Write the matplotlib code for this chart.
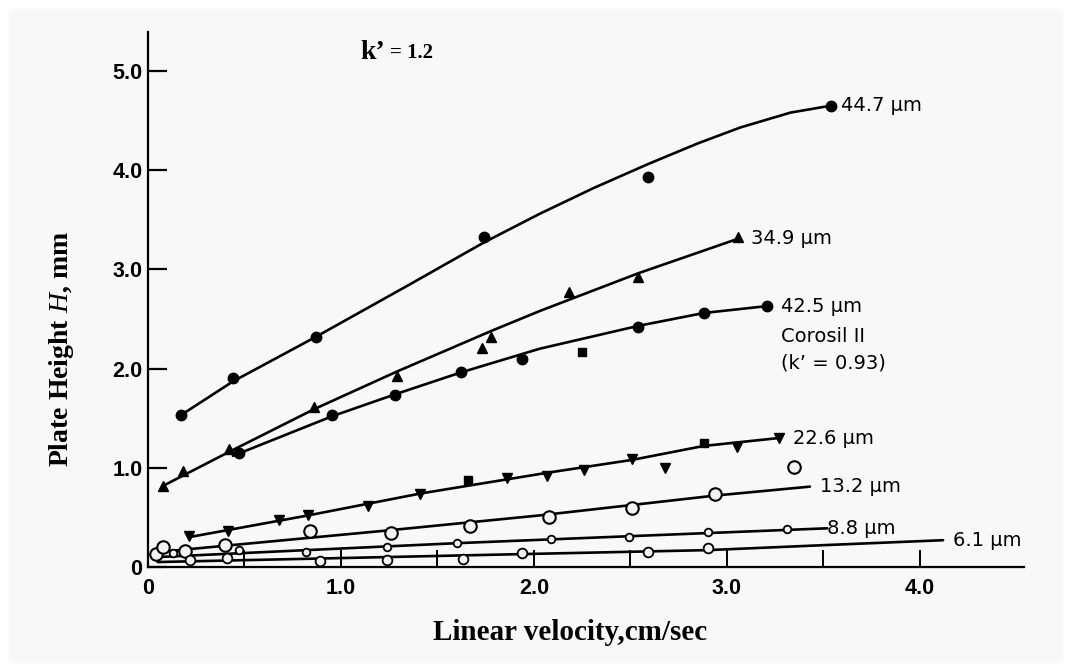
import numpy as np
import matplotlib
matplotlib.use('Agg')
import matplotlib.pyplot as plt
from matplotlib.patches import Rectangle

# datos (velocidad lineal cm/s, altura de plato mm)
u_447 = [0.17, 0.44, 0.87, 1.74, 2.59, 3.54]
h_447 = [1.53, 1.90, 2.32, 3.33, 3.93, 4.65]
fit_u_447 = [0.17, 0.44, 0.87, 1.34, 1.74, 2.03, 2.31, 2.59, 2.85, 3.07, 3.33, 3.54]
fit_h_447 = [1.53, 1.87, 2.32, 2.83, 3.27, 3.56, 3.82, 4.06, 4.27, 4.43, 4.58, 4.65]

u_349 = [0.08, 0.18, 0.42, 0.86, 1.29, 1.73, 1.78, 2.18, 2.54, 3.06]
h_349 = [0.82, 0.97, 1.19, 1.61, 1.93, 2.21, 2.32, 2.77, 2.92, 3.33]
fit_u_349 = [0.08, 0.42, 0.86, 1.29, 1.78, 2.03, 2.54, 3.06]
fit_h_349 = [0.82, 1.16, 1.59, 1.97, 2.38, 2.58, 2.96, 3.31]

u_425 = [0.47, 0.955, 1.28, 1.62, 1.94, 2.54, 2.88, 3.21]
h_425 = [1.15, 1.53, 1.73, 1.97, 2.10, 2.42, 2.56, 2.63]
fit_u_425 = [0.44, 0.955, 1.28, 1.62, 2.03, 2.54, 2.88, 3.21]
fit_h_425 = [1.12, 1.52, 1.74, 1.96, 2.20, 2.43, 2.56, 2.63]

u_226 = [0.21, 0.415, 0.68, 0.83, 1.14, 1.41, 1.86, 2.07, 2.26, 2.51, 2.68, 3.05, 3.27]
h_226 = [0.31, 0.36, 0.47, 0.52, 0.61, 0.74, 0.90, 0.92, 0.98, 1.09, 1.00, 1.21, 1.30]
fit_u_226 = [0.21, 0.83, 1.41, 2.07, 2.51, 2.88, 3.27]
fit_h_226 = [0.30, 0.52, 0.74, 0.95, 1.08, 1.22, 1.30]

# puntos cuadrados sueltos
u_sq = [1.66, 2.25, 2.88]
h_sq = [0.88, 2.17, 1.25]

u_132 = [0.04, 0.08, 0.19, 0.40, 0.84, 1.26, 1.67, 2.08, 2.51, 2.94, 3.35]
h_132 = [0.13, 0.20, 0.16, 0.22, 0.36, 0.34, 0.41, 0.50, 0.59, 0.74, 1.01]
fit_u_132 = [0.05, 1.25, 2.03, 2.94, 3.43]
fit_h_132 = [0.15, 0.37, 0.52, 0.72, 0.81]

u_88 = [0.13, 0.47, 0.82, 1.24, 1.60, 2.09, 2.49, 2.90, 3.31]
h_88 = [0.14, 0.17, 0.15, 0.20, 0.24, 0.28, 0.30, 0.35, 0.38]
fit_u_88 = [0.05, 0.82, 1.60, 2.49, 3.52]
fit_h_88 = [0.10, 0.17, 0.24, 0.31, 0.39]

u_61 = [0.22, 0.41, 0.89, 1.24, 1.63, 1.94, 2.59, 2.90]
h_61 = [0.07, 0.09, 0.06, 0.07, 0.08, 0.14, 0.15, 0.19]
fit_u_61 = [0.05, 1.00, 1.94, 2.90, 3.50, 4.12]
fit_h_61 = [0.05, 0.09, 0.13, 0.17, 0.22, 0.27]

labels = ['44.7 µm', '34.9 µm', '42.5 µm', '22.6 µm', '13.2 µm', '8.8 µm', '6.1 µm']

x_ticks = [0, 0.5, 1.0, 1.5, 2.0, 2.5, 3.0, 3.5, 4.0]
x_ticklabels = ['0', '', '1.0', '', '2.0', '', '3.0', '', '4.0']
y_ticks = [0, 1, 2, 3, 4, 5]
y_ticklabels = ['0', '1.0', '2.0', '3.0', '4.0', '5.0']

plt.rcParams['mathtext.fontset'] = 'custom'
plt.rcParams['mathtext.rm'] = 'Liberation Serif:bold'
plt.rcParams['mathtext.it'] = 'Liberation Serif:italic'

bg = '#f8f8f8'
fig = plt.figure(figsize=(10.71, 6.71), dpi=100, facecolor=bg)
fig.patches.append(Rectangle((0, 0), 1, 1, transform=fig.transFigure,
                             fill=False, edgecolor='white', lw=12))
ax = fig.add_axes([0.1382, 0.155, 0.818, 0.797], facecolor=bg)

lw = 1.9
k = 'black'
openface = '#f2f2f2'
lab_font = 'DejaVu Sans'

# curvas
for fu, fh in [(fit_u_447, fit_h_447), (fit_u_349, fit_h_349), (fit_u_425, fit_h_425),
               (fit_u_226, fit_h_226), (fit_u_132, fit_h_132), (fit_u_88, fit_h_88),
               (fit_u_61, fit_h_61)]:
    ax.plot(fu, fh, color=k, lw=lw, solid_capstyle='round', solid_joinstyle='round', zorder=2)

# puntos
ax.plot(u_447, h_447, 'o', color=k, ms=7.5, zorder=3)
ax.plot(u_349, h_349, '^', color=k, ms=7, zorder=3)
ax.plot(u_425, h_425, 'o', color=k, ms=7.5, zorder=3)
ax.plot(u_226, h_226, 'v', color=k, ms=6.5, zorder=3)
ax.plot(u_sq, h_sq, 's', color=k, ms=6, zorder=3)
ax.plot(u_132, h_132, 'o', mfc=openface, mec=k, mew=1.5, ms=9, zorder=3)
ax.plot(u_88, h_88, 'o', mfc=openface, mec=k, mew=1.3, ms=5.5, zorder=3)
ax.plot(u_61, h_61, 'o', mfc=openface, mec=k, mew=1.3, ms=7, zorder=3)

# etiquetas al final de cada curva
ends = [(fit_u_447[-1], fit_h_447[-1], 7), (fit_u_349[-1], fit_h_349[-1], 9),
        (fit_u_425[-1], fit_h_425[-1], 10), (fit_u_226[-1], fit_h_226[-1], 10),
        (fit_u_132[-1], fit_h_132[-1], 7), (fit_u_88[-1], fit_h_88[-1], 0),
        (fit_u_61[-1], fit_h_61[-1], 7)]
for (ex, ey, off), lab in zip(ends, labels):
    ax.annotate(lab, xy=(ex, ey), xytext=(off, 0), textcoords='offset points',
                va='center', ha='left', fontsize=14, family=lab_font)
ax.annotate('Corosil II', xy=(fit_u_425[-1], fit_h_425[-1]), xytext=(10, -22),
            textcoords='offset points', va='center', ha='left', fontsize=14,
            family=lab_font)
ax.annotate("(k’ = 0.93)", xy=(fit_u_425[-1], fit_h_425[-1]), xytext=(10, -41),
            textcoords='offset points', va='center', ha='left', fontsize=14,
            family=lab_font)

ax.text(1.10, 5.19, "k’", fontsize=20, fontweight='bold', family='Liberation Serif',
        va='center', ha='left')
ax.text(1.255, 5.18, "= 1.2", fontsize=15, fontweight='bold', family='Liberation Serif',
        va='center', ha='left')

# ejes
ax.set_xlim(0, 4.54)
ax.set_ylim(0, 5.39)
for s in ['top', 'right']:
    ax.spines[s].set_visible(False)
for s in ['left', 'bottom']:
    ax.spines[s].set_linewidth(1.6)

ax.set_xticks(x_ticks)
ax.set_xticklabels(x_ticklabels)
ax.set_yticks(y_ticks)
ax.set_yticklabels(y_ticklabels)
ax.tick_params(axis='x', direction='in', length=12, width=1.4, pad=8)
ax.tick_params(axis='y', direction='in', length=14, width=1.6, pad=4)
for t in ax.get_xticklabels() + ax.get_yticklabels():
    t.set_family('Liberation Sans')
    t.set_fontweight('bold')
    t.set_fontsize(15.5)

ax.set_xlabel('Linear velocity,cm/sec', fontsize=21, fontweight='bold',
              family='Liberation Serif', va='center')
ax.xaxis.set_label_coords(0.482, -0.122)
ax.set_ylabel('Plate Height $H$, mm', fontsize=20, fontweight='bold',
              family='Liberation Serif', va='center')
ax.yaxis.set_label_coords(-0.099, 0.407)

fig.savefig('out.png', dpi=100, facecolor=bg)
